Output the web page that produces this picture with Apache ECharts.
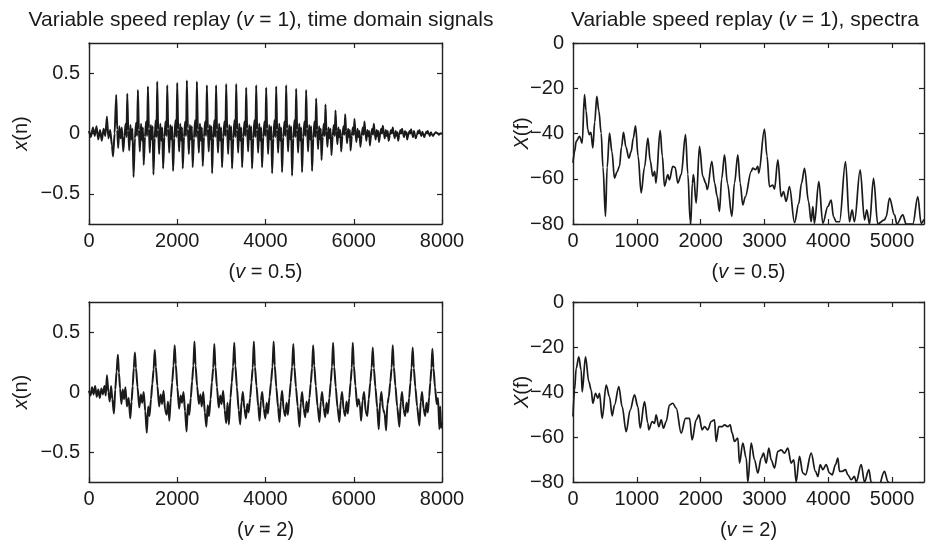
<!DOCTYPE html>
<html>
<head>
<meta charset="utf-8">
<script src="https://cdn.jsdelivr.net/npm/echarts@6/dist/echarts.min.js"></script>
<style>
html,body{margin:0;padding:0;background:#fff;}
#chart{width:926px;height:543px;}
</style>
</head>
<body>
<div id="chart"></div>
<script>
// ---- tick labels ----
const timeTicksX = [0, 2000, 4000, 6000, 8000];
const timeTicksY = [-0.5, 0, 0.5];
const specTicksX = [0, 1000, 2000, 3000, 4000, 5000];
const specTicksY = [-80, -60, -40, -20, 0];

// ---- v = 0.5 : time-domain signal [n, x(n)] ----
const signalSlow = [
[0,0.02],[40,-0.03],[90,0.05],[130,-0.02],[170,0.06],[210,-0.05],[250,0.03],[290,-0.06],[330,0.04],[370,-0.02],[406,0.14],[440,-0.04],[480,0.03],[520,-0.1],[545,-0.19],[580,0.0],
[617,0.32],[640,0.03],[662,-0.12],[688,0.06],[715,-0.04],[745,0.05],[775,-0.15],[805,-0.02],[830,0.08],[850,-0.03],
[867,0.33],[890,0.02],[912,-0.14],[938,0.07],[962,-0.05],[985,0.04],[1010,-0.36],[1040,-0.04],[1068,0.09],[1090,-0.02],
[1108,0.36],[1130,0.03],[1152,-0.15],[1178,0.08],[1205,-0.06],[1222,0.05],[1240,-0.26],[1268,-0.03],[1295,0.1],[1318,-0.02],
[1335,0.39],[1357,0.04],[1378,-0.16],[1402,0.07],[1425,-0.05],[1443,0.06],[1460,-0.34],[1488,-0.04],[1512,0.11],[1530,-0.03],
[1546,0.43],[1568,0.03],[1590,-0.17],[1615,0.08],[1640,-0.06],[1660,0.05],[1680,-0.29],[1708,-0.03],[1735,0.1],[1756,-0.02],
[1773,0.40],[1795,0.04],[1818,-0.16],[1842,0.07],[1866,-0.05],[1885,0.06],[1905,-0.31],[1933,-0.04],[1960,0.11],[1982,-0.03],
[1999,0.42],[2021,0.03],[2043,-0.15],[2067,0.08],[2090,-0.06],[2108,0.05],[2125,-0.29],[2153,-0.03],[2180,0.1],[2200,-0.02],
[2218,0.44],[2240,0.04],[2263,-0.17],[2287,0.07],[2310,-0.05],[2330,0.06],[2350,-0.28],[2378,-0.04],[2405,0.11],[2428,-0.03],
[2445,0.43],[2467,0.03],[2490,-0.16],[2514,0.08],[2538,-0.06],[2558,0.05],[2578,-0.27],[2605,-0.03],[2632,0.1],[2654,-0.02],
[2671,0.40],[2693,0.04],[2714,-0.15],[2737,0.07],[2758,-0.05],[2775,0.06],[2790,-0.33],[2815,-0.04],[2842,0.11],[2863,-0.03],
[2880,0.40],[2902,0.03],[2925,-0.16],[2949,0.08],[2973,-0.06],[2995,0.05],[3015,-0.28],[3043,-0.03],[3070,0.1],[3092,-0.02],
[3109,0.41],[3131,0.04],[3154,-0.17],[3178,0.07],[3202,-0.05],[3222,0.06],[3242,-0.29],[3270,-0.04],[3297,0.11],[3319,-0.03],
[3336,0.41],[3358,0.03],[3381,-0.16],[3405,0.08],[3429,-0.06],[3450,0.05],[3470,-0.28],[3497,-0.03],[3524,0.1],[3545,-0.02],
[3562,0.38],[3584,0.04],[3607,-0.15],[3631,0.07],[3655,-0.05],[3675,0.06],[3695,-0.29],[3723,-0.04],[3750,0.11],[3772,-0.03],
[3789,0.40],[3811,0.03],[3834,-0.16],[3858,0.08],[3882,-0.06],[3902,0.05],[3922,-0.28],[3950,-0.03],[3977,0.1],[3998,-0.02],
[4015,0.38],[4037,0.04],[4060,-0.17],[4084,0.07],[4108,-0.05],[4130,0.06],[4150,-0.33],[4177,-0.04],[4204,0.11],[4225,-0.03],
[4242,0.39],[4264,0.03],[4287,-0.16],[4311,0.08],[4335,-0.06],[4355,0.05],[4375,-0.32],[4403,-0.03],[4430,0.1],[4451,-0.02],
[4468,0.40],[4490,0.04],[4513,-0.15],[4537,0.07],[4561,-0.05],[4582,0.06],[4602,-0.35],[4630,-0.04],[4657,0.11],[4678,-0.03],
[4695,0.37],[4717,0.03],[4740,-0.16],[4764,0.08],[4788,-0.06],[4808,0.05],[4828,-0.32],[4856,-0.03],[4883,0.1],[4904,-0.02],
[4921,0.36],[4943,0.04],[4966,-0.15],[4990,0.07],[5014,-0.05],[5035,0.06],[5055,-0.31],[5083,-0.04],[5110,0.1],[5131,-0.03],
[5148,0.29],[5170,0.03],[5192,-0.13],[5215,0.06],[5238,-0.05],[5253,0.04],[5270,-0.22],[5295,-0.03],[5322,0.08],[5343,-0.02],
[5359,0.24],[5381,0.02],[5404,-0.11],[5428,0.05],[5452,-0.04],[5474,0.04],[5495,-0.18],[5522,-0.02],[5549,0.07],[5570,-0.02],
[5586,0.19],[5608,0.02],[5630,-0.09],[5653,0.05],[5676,-0.03],[5696,0.03],[5715,-0.15],[5742,-0.02],[5768,0.06],[5789,-0.01],
[5805,0.16],[5827,0.02],[5849,-0.08],[5872,0.04],[5895,-0.03],[5912,0.03],[5928,-0.14],[5955,-0.02],[5980,0.05],[6000,-0.01],
[6016,0.12],[6038,0.01],[6061,-0.07],[6085,0.04],[6108,-0.03],[6130,0.02],[6150,-0.11],[6178,-0.02],[6205,0.05],[6226,-0.01],
[6242,0.10],[6264,0.01],[6286,-0.06],[6309,0.03],[6332,-0.02],[6350,0.02],[6365,-0.10],[6392,-0.01],[6418,0.04],[6438,-0.01],
[6454,0.08],[6476,0.01],[6497,-0.05],[6520,0.03],[6542,-0.02],[6557,0.02],[6570,-0.07],[6597,-0.01],[6622,0.04],[6642,0.0],
[6658,0.065],[6680,0.01],[6703,-0.04],[6727,0.03],[6750,-0.02],[6770,0.02],[6790,-0.06],[6818,-0.01],[6845,0.03],[6866,0.0],
[6884,0.05],[6906,0.0],[6928,-0.04],[6951,0.02],[6974,-0.02],[6990,0.01],[7005,-0.06],[7032,-0.01],[7058,0.03],[7078,0.0],
[7095,0.04],[7117,0.0],[7139,-0.03],[7162,0.02],[7185,-0.01],[7198,0.01],[7210,-0.05],[7237,-0.01],[7262,0.02],[7282,0.0],
[7299,0.035],[7320,0.0],[7342,-0.03],[7365,0.02],[7388,-0.01],[7405,-0.04],[7432,-0.01],[7455,0.02],[7472,0.0],
[7488,0.03],[7510,0.0],[7532,-0.02],[7555,0.015],[7578,-0.01],[7600,-0.03],[7625,0.0],[7648,0.015],[7662,0.0],
[7676,0.02],[7700,0.0],[7725,-0.02],[7750,0.01],[7775,-0.01],[7800,-0.02],[7830,0.0],[7860,0.01],[7903,0.0],[7930,-0.01],[7960,0.0],[8000,0.0]
];

// ---- v = 0.5 : spectrum [f, dB] ----
const spectrumSlow = [
[0,-53],[25,-48],[50,-43.5],[102,-41.3],[144,-44.2],[180,-22.8],[205,-30],[232,-38.3],[255,-40.5],[280,-39.5],[311,-46.4],[340,-35],[373,-23.6],[405,-30],[441,-39.8],[470,-55],[509,-76.6],[535,-55],[572,-39.8],[610,-48],[650,-59.7],[690,-57],[728,-54.5],[760,-46],[791,-39.5],[830,-46],[875,-50.9],[911,-48],[945,-42],[980,-36.6],[1020,-50],[1068,-66.3],[1120,-55],[1173,-42],[1210,-52],[1251,-58.9],[1280,-56.7],[1300,-61.9],[1366,-38.6],[1400,-50],[1434,-63.3],[1486,-58.2],[1510,-60.5],[1565,-54.5],[1600,-55],[1643,-61.9],[1695,-58.2],[1763,-40.5],[1800,-58],[1836,-78.8],[1845,-80],[1870,-62],[1888,-58.2],[1930,-70.8],[1982,-45.7],[2034,-59],[2080,-61.9],[2105,-64.8],[2175,-52.3],[2220,-62],[2259,-67.8],[2295,-74.4],[2330,-60],[2374,-49.4],[2420,-62],[2489,-76.6],[2530,-62],[2583,-49.4],[2620,-62],[2661,-71.6],[2700,-68],[2792,-56.8],[2818,-55.3],[2860,-56],[2896,-54.5],[2911,-57.5],[3000,-38.1],[3040,-50],[3079,-63.5],[3131,-62.8],[3157,-64.6],[3210,-51.7],[3262,-67.9],[3299,-65.7],[3340,-70],[3392,-63.5],[3471,-79.4],[3538,-70.9],[3580,-62],[3628,-55.4],[3690,-70],[3732,-79],[3758,-72.3],[3783,-79.7],[3852,-61.3],[3915,-79.7],[3993,-72.3],[4045,-69.4],[4082,-76.8],[4124,-79],[4176,-79],[4270,-52.4],[4332,-79],[4374,-73.8],[4410,-79],[4500,-56.1],[4568,-78.2],[4604,-73.8],[4646,-80],[4709,-59.8],[4776,-80],[4880,-78.2],[4907,-76.8],[4960,-68.6],[5038,-76],[5075,-80],[5168,-76],[5220,-80],[5325,-80],[5403,-67.9],[5455,-79.7],[5500,-78]
];

// ---- v = 2 : time-domain signal [n, x(n)] ----
const signalFast = [
[0,0.01],[35,-0.03],[70,0.04],[105,-0.02],[140,0.05],[175,-0.04],[210,0.02],[245,-0.05],[280,0.03],[315,-0.02],[350,0.05],[380,-0.03],[406,0.14],[440,0.0],[470,-0.08],[500,0.05],[530,-0.06],[565,-0.18],[595,0.02],[625,0.17],
[655,0.31],[678,0.16],[705,0.03],[735,-0.1],[765,0.02],[795,-0.06],[825,0.04],[860,-0.12],[900,-0.05],[935,-0.22],[965,-0.08],[990,0.05],[1015,0.2],
[1040,0.33],[1065,0.2],[1100,0.04],[1140,-0.13],[1175,-0.02],[1205,-0.09],[1240,0.0],[1275,-0.16],[1310,-0.34],[1340,-0.12],[1370,-0.2],[1405,-0.06],[1435,0.07],[1465,0.19],
[1490,0.35],[1515,0.21],[1550,0.05],[1590,-0.12],[1625,-0.02],[1655,-0.1],[1690,0.01],[1725,-0.15],[1760,-0.19],[1790,-0.08],[1820,-0.24],[1855,-0.05],[1885,0.08],[1915,0.22],
[1942,0.39],[1967,0.23],[2002,0.04],[2042,-0.14],[2077,-0.03],[2107,-0.09],[2142,0.0],[2177,-0.16],[2212,-0.33],[2242,-0.1],[2272,-0.19],[2307,-0.05],[2337,0.09],[2365,0.22],
[2390,0.42],[2415,0.22],[2450,0.05],[2490,-0.1],[2525,-0.02],[2555,-0.12],[2590,0.0],[2625,-0.17],[2660,-0.29],[2690,-0.11],[2720,-0.2],[2755,-0.06],[2785,0.08],[2815,0.2],
[2840,0.40],[2865,0.21],[2900,0.04],[2940,-0.13],[2975,-0.03],[3005,-0.1],[3040,0.01],[3075,-0.15],[3110,-0.26],[3140,-0.09],[3170,-0.27],[3205,-0.05],[3235,0.08],[3265,0.21],
[3292,0.41],[3317,0.22],[3352,0.04],[3392,-0.15],[3427,-0.27],[3457,-0.08],[3487,0.0],[3522,-0.14],[3557,-0.22],[3587,-0.1],[3617,-0.17],[3652,-0.05],[3682,0.08],[3710,0.2],
[3736,0.42],[3761,0.21],[3796,0.05],[3836,-0.12],[3866,-0.24],[3896,-0.07],[3926,0.0],[3961,-0.14],[3996,-0.22],[4026,-0.09],[4056,-0.18],[4091,-0.04],[4125,0.08],[4158,0.21],
[4185,0.42],[4210,0.22],[4245,0.04],[4285,-0.13],[4317,-0.25],[4347,-0.08],[4377,0.01],[4412,-0.15],[4447,-0.2],[4477,-0.09],[4507,-0.19],[4540,-0.05],[4572,0.08],[4603,0.21],
[4630,0.40],[4655,0.21],[4690,0.04],[4730,-0.12],[4770,-0.29],[4800,-0.09],[4830,0.0],[4865,-0.14],[4900,-0.21],[4930,-0.08],[4960,-0.17],[4995,-0.05],[5025,0.07],[5055,0.2],
[5080,0.39],[5105,0.22],[5140,0.05],[5180,-0.12],[5223,-0.25],[5253,-0.08],[5283,0.0],[5318,-0.13],[5353,-0.21],[5383,-0.09],[5413,-0.18],[5447,-0.05],[5478,0.08],[5507,0.21],
[5532,0.41],[5557,0.21],[5592,0.04],[5632,-0.13],[5676,-0.25],[5706,-0.07],[5736,0.0],[5771,-0.15],[5806,-0.2],[5836,-0.08],[5866,-0.18],[5898,-0.05],[5928,0.08],[5955,0.2],
[5978,0.41],[6003,0.22],[6038,0.05],[6078,-0.12],[6110,-0.06],[6140,-0.11],[6167,-0.24],[6200,-0.07],[6235,0.0],[6270,-0.16],[6305,-0.2],[6340,-0.06],[6375,0.08],[6405,0.2],
[6431,0.37],[6456,0.2],[6491,0.04],[6531,-0.13],[6567,-0.31],[6597,-0.08],[6627,0.0],[6662,-0.14],[6700,-0.18],[6733,-0.32],[6763,-0.1],[6795,-0.04],[6828,0.08],[6858,0.2],
[6884,0.39],[6909,0.21],[6944,0.05],[6984,-0.12],[7035,-0.29],[7065,-0.08],[7095,0.0],[7130,-0.15],[7165,-0.2],[7195,-0.09],[7225,-0.17],[7255,-0.05],[7285,0.08],[7310,0.2],
[7336,0.37],[7361,0.2],[7396,0.04],[7436,-0.12],[7488,-0.28],[7518,-0.08],[7548,0.0],[7583,-0.14],[7618,-0.2],[7648,-0.09],[7678,-0.17],[7710,-0.04],[7735,0.08],[7760,0.2],
[7782,0.36],[7807,0.2],[7842,0.04],[7880,-0.1],[7910,-0.05],[7941,-0.31],[7960,-0.12],[7980,-0.3],[8000,-0.25]
];

// ---- v = 2 : spectrum [f, dB] ----
const spectrumFast = [
[0,-50.9],[24,-39.1],[50,-29.5],[91,-24.4],[128,-30.3],[144,-39.9],[196,-24.4],[248,-35.4],[285,-39.1],[311,-45],[353,-40.6],[389,-42.8],[415,-40.6],[457,-51.7],[520,-36.9],[572,-42.1],[614,-50.6],[650,-45.8],[718,-37.6],[770,-46.5],[833,-57.6],[896,-48],[964,-41.3],[1016,-46.5],[1053,-56.1],[1120,-44.3],[1173,-53.9],[1188,-56.8],[1241,-53.1],[1277,-53.9],[1303,-50.2],[1345,-55.4],[1382,-52.4],[1418,-56.1],[1460,-53.1],[1512,-45.8],[1564,-45],[1617,-47.2],[1695,-58.3],[1763,-51.7],[1826,-51.7],[1866,-61.3],[1930,-52.4],[1972,-50.2],[2024,-56.8],[2061,-55.4],[2113,-56.8],[2165,-53.1],[2217,-52.4],[2243,-62],[2285,-55.4],[2337,-55.4],[2374,-54.6],[2426,-55.4],[2463,-54.6],[2494,-58.3],[2531,-62],[2583,-60.5],[2609,-71.6],[2661,-62.7],[2714,-69.4],[2740,-80],[2792,-62.7],[2844,-70.1],[2896,-76],[2949,-69.4],[2985,-67.2],[3027,-71.6],[3069,-64.9],[3105,-70.1],[3157,-73.8],[3210,-66.4],[3262,-65.7],[3314,-67.2],[3366,-64.9],[3419,-71.6],[3460,-70.1],[3497,-80],[3549,-68.6],[3601,-76],[3643,-76.8],[3732,-67.2],[3800,-75.3],[3837,-77.5],[3873,-72.3],[3915,-74.5],[3967,-72.3],[4019,-76],[4061,-76.8],[4113,-72.3],[4150,-69.4],[4176,-75.3],[4218,-75.3],[4270,-74.5],[4307,-76.8],[4359,-79],[4411,-77.5],[4437,-80],[4516,-72.3],[4568,-80],[4636,-74.5],[4672,-80],[4777,-83],[4881,-75.3],[4933,-79.7],[5000,-84],[5200,-86],[5500,-88]
];

const FONT = 'Liberation Sans, Arial, Helvetica, sans-serif';
const FS = 20;
const TFS = 21;
const INK = '#1a1a1a';
const minus = v => String(v).replace('-', '\u2212');
const rich = { i: { fontStyle: 'italic', fontSize: FS, fontFamily: FONT, color: INK } };
const richT = { i: { fontStyle: 'italic', fontSize: TFS, fontFamily: FONT, color: INK } };

const grids = [
  { left: 89, top: 43, width: 353, height: 181 },
  { left: 573, top: 43, width: 351, height: 181 },
  { left: 89, top: 302, width: 353, height: 180 },
  { left: 573, top: 302, width: 351, height: 180 }
];

function xPair(gi, min, max, ticks, name) {
  const common = {
    type: 'value', gridIndex: gi, min: min, max: max,
    axisLine: { show: true, onZero: false, lineStyle: { color: '#222', width: 1.4 } },
    axisTick: { show: true, inside: true, length: 5, customValues: ticks, lineStyle: { color: '#222', width: 1.2 } },
    splitLine: { show: false }
  };
  return [
    Object.assign({}, common, {
      position: 'bottom',
      axisLabel: { show: true, customValues: ticks, color: INK, fontFamily: FONT, fontSize: FS, margin: 7, formatter: minus },
      name: name, nameLocation: 'middle', nameGap: 38, nameMoveOverlap: false,
      nameTextStyle: { color: INK, fontFamily: FONT, fontSize: FS, rich: rich }
    }),
    Object.assign({}, common, { position: 'top', axisLabel: { show: false } })
  ];
}
function yPair(gi, min, max, ticks, name, gap) {
  const common = {
    type: 'value', gridIndex: gi, min: min, max: max,
    axisLine: { show: true, onZero: false, lineStyle: { color: '#222', width: 1.4 } },
    axisTick: { show: true, inside: true, length: 5, customValues: ticks, lineStyle: { color: '#222', width: 1.2 } },
    splitLine: { show: false }
  };
  return [
    Object.assign({}, common, {
      position: 'left',
      axisLabel: { show: true, customValues: ticks, color: INK, fontFamily: FONT, fontSize: FS, margin: 9, formatter: minus },
      name: name, nameLocation: 'middle', nameGap: gap, nameRotate: 90, nameMoveOverlap: false,
      nameTextStyle: { color: INK, fontFamily: FONT, fontSize: FS, rich: rich }
    }),
    Object.assign({}, common, { position: 'right', axisLabel: { show: false } })
  ];
}

const xAxes = [].concat(
  xPair(0, 0, 8000, timeTicksX, '({i|v} = 0.5)'),
  xPair(1, 0, 5500, specTicksX, '({i|v} = 0.5)'),
  xPair(2, 0, 8000, timeTicksX, '({i|v} = 2)'),
  xPair(3, 0, 5500, specTicksX, '({i|v} = 2)')
);
const yAxes = [].concat(
  yPair(0, -0.75, 0.75, timeTicksY, '{i|x}(n)', 58),
  yPair(1, -80, 0, specTicksY, '{i|X}(f)', 41),
  yPair(2, -0.75, 0.75, timeTicksY, '{i|x}(n)', 58),
  yPair(3, -80, 0, specTicksY, '{i|X}(f)', 41)
);

function lineSeries(data, ai, w, smooth) {
  return {
    type: 'line', data: data, xAxisIndex: ai, yAxisIndex: ai,
    showSymbol: false, symbol: 'none', clip: true,
    smooth: smooth, smoothMonotone: 'x',
    lineStyle: { color: INK, width: w }, silent: true
  };
}

const chart = echarts.init(document.getElementById('chart'), null, { renderer: 'canvas' });
chart.setOption({
  animation: false,
  backgroundColor: '#fff',
  grid: grids,
  xAxis: xAxes,
  yAxis: yAxes,
  graphic: [
    { type: 'text', x: 261, y: 20, style: { text: 'Variable speed replay ({i|v} = 1), time domain signals', rich: richT, fontFamily: FONT, fontSize: TFS, fill: INK, align: 'center', verticalAlign: 'middle' } },
    { type: 'text', x: 745, y: 20, style: { text: 'Variable speed replay ({i|v} = 1), spectra', rich: richT, fontFamily: FONT, fontSize: TFS, fill: INK, align: 'center', verticalAlign: 'middle' } }
  ],
  series: [
    lineSeries(signalSlow, 0, 2.0, 0.2),
    lineSeries(spectrumSlow, 2, 1.7, 0.35),
    lineSeries(signalFast, 4, 2.0, 0.25),
    lineSeries(spectrumFast, 6, 1.7, 0.35)
  ]
});
</script>
</body>
</html>
